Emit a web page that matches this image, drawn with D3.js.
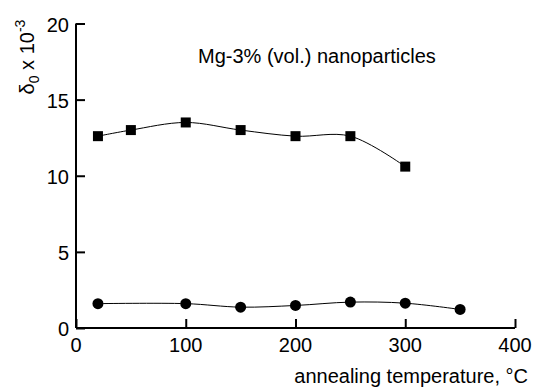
<!DOCTYPE html>
<html lang="en">
<head>
  <meta charset="UTF-8">
  <title>Mg nanoparticles</title>
  <script src="https://d3js.org/d3.v7.min.js"></script>
  <style>
    body { margin: 0; background: #fff; }
    svg text { font-family: "Liberation Sans", Arial, sans-serif; fill: #000; }
  </style>
</head>
<body>
  <svg id="chart" width="533" height="387"></svg>
  <script>
    const temps1 = [20, 50, 100, 150, 200, 250, 300];
    const squares = [12.6, 13.0, 13.5, 13.0, 12.6, 12.6, 10.6];
    const temps2 = [20, 100, 150, 200, 250, 300, 350];
    const circles = [1.6, 1.6, 1.37, 1.48, 1.7, 1.63, 1.22];
    const xTicks = [0, 100, 200, 300, 400];
    const yTicks = [0, 5, 10, 15, 20];

    const svg = d3.select("#chart");
    const x = d3.scaleLinear().domain([0, 400]).range([76, 515]);
    const y = d3.scaleLinear().domain([0, 20]).range([328, 23.5]);

    // axes
    const xAxis = svg.append("g")
      .attr("transform", `translate(0,${y(0)})`)
      .call(d3.axisTop(x).tickValues(xTicks).tickSize(9).tickFormat(""));
    xAxis.select(".domain").attr("d", `M${x(0)},0H${x(400)}`).attr("stroke-width", 2);
    xAxis.selectAll(".tick line").attr("stroke-width", 2);
    svg.append("g").selectAll("text").data(xTicks).join("text")
      .attr("x", d => x(d)).attr("y", 352)
      .attr("text-anchor", "middle").attr("font-size", 20)
      .text(d => d);

    const yAxis = svg.append("g")
      .attr("transform", `translate(${x(0)},0)`)
      .call(d3.axisRight(y).tickValues(yTicks).tickSize(9).tickFormat(""));
    yAxis.select(".domain").attr("d", `M0,${y(20)}V${y(0)}`).attr("stroke-width", 2);
    yAxis.selectAll(".tick line").attr("stroke-width", 2);
    svg.append("g").selectAll("text").data(yTicks).join("text")
      .attr("x", 69).attr("y", d => y(d) + 8)
      .attr("text-anchor", "end").attr("font-size", 20)
      .text(d => d);

    // lines
    const line = d3.line().x(d => x(d[0])).y(d => y(d[1])).curve(d3.curveCatmullRom);
    const s1 = temps1.map((t, i) => [t, squares[i]]);
    const s2 = temps2.map((t, i) => [t, circles[i]]);
    svg.append("path").attr("d", line(s1)).attr("fill", "none").attr("stroke", "#000").attr("stroke-width", 1);
    svg.append("path").attr("d", line(s2)).attr("fill", "none").attr("stroke", "#000").attr("stroke-width", 1);

    svg.append("g").selectAll("rect").data(s1).join("rect")
      .attr("x", d => x(d[0]) - 5).attr("y", d => y(d[1]) - 5)
      .attr("width", 10).attr("height", 10).attr("fill", "#000");
    svg.append("g").selectAll("circle").data(s2).join("circle")
      .attr("cx", d => x(d[0])).attr("cy", d => y(d[1]))
      .attr("r", 5.5).attr("fill", "#000");

    // texts
    svg.append("text").attr("x", 198).attr("y", 63).attr("font-size", 20)
      .text("Mg-3% (vol.) nanoparticles");
    svg.append("text").attr("x", 528).attr("y", 383).attr("text-anchor", "end").attr("font-size", 20)
      .text("annealing temperature, °C");

    const yl = svg.append("text").attr("transform", "translate(34,57) rotate(-90)")
      .attr("text-anchor", "middle").attr("font-size", 20);
    yl.append("tspan").text("δ");
    yl.append("tspan").attr("font-size", 14).attr("dy", 5).text("0");
    yl.append("tspan").attr("dy", -5).text(" x 10");
    yl.append("tspan").attr("font-size", 14).attr("dy", -9).text("-3");
  </script>
</body>
</html>
